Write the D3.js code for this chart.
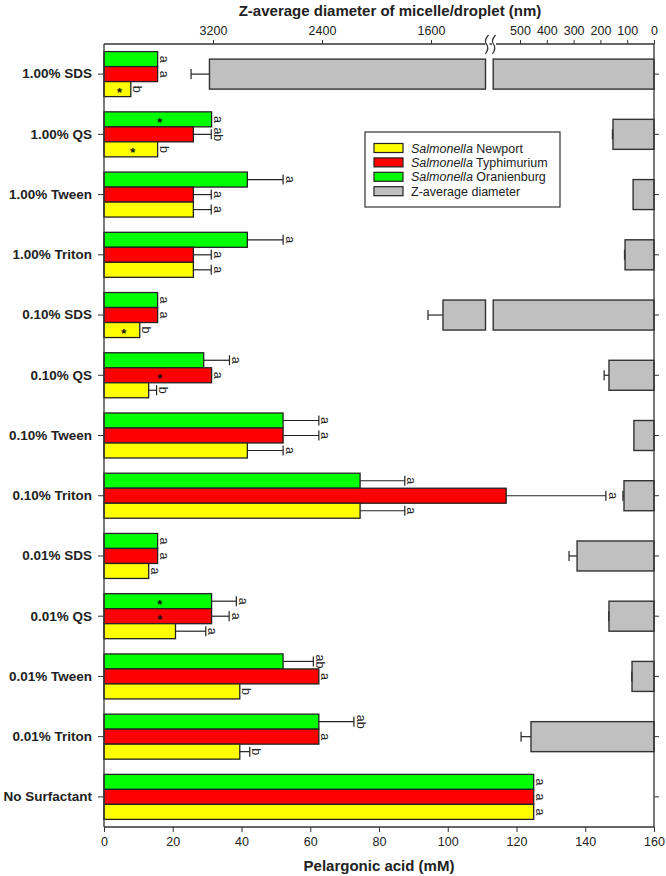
<!DOCTYPE html>
<html><head><meta charset="utf-8">
<script src="https://cdn.jsdelivr.net/npm/d3@7"></script>
<style>
body{margin:0;background:#fff;}
text{font-family:"Liberation Sans",Arial,sans-serif;}
</style></head>
<body><svg id="c" width="666" height="876"></svg>
<script>
const categories = ["1.00% SDS","1.00% QS","1.00% Tween","1.00% Triton","0.10% SDS","0.10% QS","0.10% Tween","0.10% Triton","0.01% SDS","0.01% QS","0.01% Tween","0.01% Triton","No Surfactant"];
const oranienburg = [15.6, 31.3, 41.7, 41.7, 15.6, 29.0, 52.1, 74.5, 15.6, 31.3, 52.1, 62.5, 125];
const oranienburgErr = [0, 0, 10.4, 10.4, 0, 7.5, 10.4, 13, 0, 7.2, 8.8, 10.2, 0];
const typhimurium = [15.6, 26.0, 26.0, 26.0, 15.6, 31.3, 52.1, 117, 15.6, 31.3, 62.5, 62.5, 125];
const typhimuriumErr = [0, 5.2, 5.2, 5.2, 0, 0, 10.4, 29, 0, 5.1, 0, 0, 0];
const newport = [7.8, 15.6, 26.0, 26.0, 10.4, 13.0, 41.7, 74.5, 13.0, 20.8, 39.5, 39.5, 125];
const newportErr = [0, 0, 5.2, 5.2, 0, 2.3, 10.4, 13, 0, 8.8, 0, 2.9, 0];
const oranienburgLetters = ["a","a","a","a","a","a","a","a","a","a","ab","ab","a"];
const typhimuriumLetters = ["a","ab","a","a","a","a","a","a","a","a","a","a","a"];
const newportLetters = ["b","b","a","a","b","b","a","a","a","a","b","b","a"];
const oranienburgStar = [0,1,0,0,0,0,0,0,0,1,0,0,0];
const typhimuriumStar = [0,0,0,0,0,1,0,0,0,1,0,0,0];
const newportStar = [1,1,0,0,1,0,0,0,0,0,0,0,0];
const diameter = [3226, 153, 78, 108, 1512, 168, 75, 112, 287, 168, 82, 459, 0];
const diameterErr = [135, 2, 0, 2, 110, 18, 0, 4, 30, 1, 1, 37, 0];
const bottomTicks = [0,20,40,60,80,100,120,140,160];
const topTicks = [3200,2400,1600,500,400,300,200,100,0];
const seriesNames = ["Salmonella Newport","Salmonella Typhimurium","Salmonella Oranienburg","Z-average diameter"];

const L=104, R=654, T=44, B=827;
const svg = d3.select("#c");
const x = d3.scaleLinear().domain([0,160]).range([L,R]);
const xd = d3.scaleLinear().domain([0,600,1200,4000]).range([R,493.2,485.5,L]);
const y = d3.scaleBand().domain(categories).range([T,B]);
const sub = d3.scaleBand().domain(["o","t","n"]).range([-22.5,22.5]);
const colors = {o:"#00ff00", t:"#ff0000", n:"#ffff00"};
const stroke = "#222";

const series = [
  {k:"o", v:oranienburg, e:oranienburgErr, l:oranienburgLetters, s:oranienburgStar},
  {k:"t", v:typhimurium, e:typhimuriumErr, l:typhimuriumLetters, s:typhimuriumStar},
  {k:"n", v:newport, e:newportErr, l:newportLetters, s:newportStar}
];

// gray diameter bars
const g = svg.append("g");
categories.forEach((c,i)=>{
  const v = diameter[i]; if(!v) return;
  const cy = y(c)+y.bandwidth()/2;
  const pieces = [[0, Math.min(v,600)]];
  if (v>1200) pieces.push([1200, v]);
  pieces.forEach(p=>{
    g.append("rect").attr("x", xd(p[1])).attr("y", cy-15).attr("width", xd(p[0])-xd(p[1])).attr("height",30)
      .attr("fill","#c0c0c0").attr("stroke","#333").attr("stroke-width",1.4);
  });
  if (diameterErr[i]>0){
    const xe = xd(v+diameterErr[i]);
    g.append("line").attr("x1",xd(v)).attr("x2",xe).attr("y1",cy).attr("y2",cy).attr("stroke","#333").attr("stroke-width",1.3);
    g.append("line").attr("x1",xe).attr("x2",xe).attr("y1",cy-5).attr("y2",cy+5).attr("stroke","#333").attr("stroke-width",1.3);
  }
});

// bacterial bars
series.forEach(s=>{
  categories.forEach((c,i)=>{
    const top = y(c)+y.bandwidth()/2+sub(s.k);
    const h = sub.bandwidth();
    const cy = top+h/2;
    g.append("rect").attr("x",x(0)).attr("y",top).attr("width",x(s.v[i])-x(0)).attr("height",h)
      .attr("fill",colors[s.k]).attr("stroke",stroke).attr("stroke-width",1.3);
    let end = x(s.v[i]);
    if (s.e[i]>0){
      const xe = x(s.v[i]+s.e[i]);
      g.append("line").attr("x1",end).attr("x2",xe).attr("y1",cy).attr("y2",cy).attr("stroke",stroke).attr("stroke-width",1.2);
      g.append("line").attr("x1",xe).attr("x2",xe).attr("y1",cy-5).attr("y2",cy+5).attr("stroke",stroke).attr("stroke-width",1.2);
      end = xe;
    }
    const lx = end + 7;
    g.append("text").attr("transform",`translate(${lx},${cy}) rotate(90)`)
      .attr("text-anchor","middle").attr("dy","0.35em").attr("font-size",12.5).attr("fill","#222").text(s.l[i]);
    if (s.s[i]){
      g.append("text").attr("x",(x(0)+x(s.v[i]))/2+2).attr("y",cy+7.5)
        .attr("text-anchor","middle").attr("font-size",13).attr("font-weight","bold").attr("fill","#111").text("*");
    }
  });
});

// frame
const f = svg.append("g").attr("stroke","#333").attr("stroke-width",1.3).attr("fill","none");
f.append("line").attr("x1",L).attr("x2",L).attr("y1",T).attr("y2",B);
f.append("line").attr("x1",R).attr("x2",R).attr("y1",T).attr("y2",B);
f.append("line").attr("x1",L).attr("x2",R).attr("y1",B).attr("y2",B);
f.append("line").attr("x1",L).attr("x2",R).attr("y1",T).attr("y2",T);

// axes
const ax = svg.append("g").attr("transform",`translate(0,${B})`).call(d3.axisBottom(x).tickValues(bottomTicks).tickSize(5).tickPadding(5));
ax.select(".domain").remove();
ax.selectAll("text").attr("font-size",12.5).attr("fill","#222").style("font-family","Liberation Sans");
ax.selectAll("line").attr("stroke","#333");

const at = svg.append("g").attr("transform",`translate(0,${T})`).call(d3.axisTop(xd).tickValues(topTicks).tickFormat(d3.format("d")).tickSize(4).tickPadding(5));
at.select(".domain").remove();
at.selectAll("text").attr("font-size",12.5).attr("fill","#222").style("font-family","Liberation Sans");
at.selectAll("line").attr("stroke","#333");

const al = svg.append("g").attr("transform",`translate(${L},0)`).call(d3.axisLeft(y).tickSize(6).tickPadding(6));
al.select(".domain").remove();
al.selectAll("text").attr("font-size",13.5).attr("font-weight","bold").attr("fill","#222").style("font-family","Liberation Sans");
al.selectAll("line").attr("stroke","#333");

const ar = svg.append("g").attr("transform",`translate(${R},0)`).call(d3.axisRight(y).tickSize(5).tickFormat(""));
ar.select(".domain").remove();
ar.selectAll("line").attr("stroke","#333");

// break marks
[487.5, 494].forEach(bx=>{
  svg.append("rect").attr("x",bx-2).attr("y",T-1.5).attr("width",4).attr("height",3).attr("fill","#fff");
});
[486.5, 493.5].forEach(bx=>{
  svg.append("path").attr("d",`M${bx+2},${T-9} Q${bx-3},${T-3} ${bx},${T} Q${bx+3},${T+4} ${bx-1},${T+10}`)
    .attr("fill","none").attr("stroke","#333").attr("stroke-width",1.2);
});

// titles
svg.append("text").attr("x",390).attr("y",16).attr("text-anchor","middle").attr("font-size",15).attr("font-weight","bold").attr("fill","#222").text("Z-average diameter of micelle/droplet (nm)");
svg.append("text").attr("x",379).attr("y",871).attr("text-anchor","middle").attr("font-size",15).attr("font-weight","bold").attr("fill","#222").text("Pelargonic acid (mM)");

// legend
const lg = svg.append("g");
lg.append("rect").attr("x",365).attr("y",132).attr("width",195).attr("height",75).attr("fill","#fff").attr("stroke","#333").attr("stroke-width",1.2);
const legColors = ["#ffff00","#ff0000","#00ff00","#c0c0c0"];
seriesNames.forEach((n,i)=>{
  const cy = 148 + i*14.4;
  lg.append("rect").attr("x",374).attr("y",cy-4.5).attr("width",29).attr("height",9).attr("fill",legColors[i]).attr("stroke",stroke).attr("stroke-width",1.2);
  const t = lg.append("text").attr("x",411).attr("y",cy).attr("dy","0.36em").attr("font-size",12.5).attr("fill","#222");
  if (n.startsWith("Salmonella")){
    t.append("tspan").attr("font-style","italic").text("Salmonella");
    t.append("tspan").text(n.slice(10));
  } else t.text(n);
});
</script></body></html>
